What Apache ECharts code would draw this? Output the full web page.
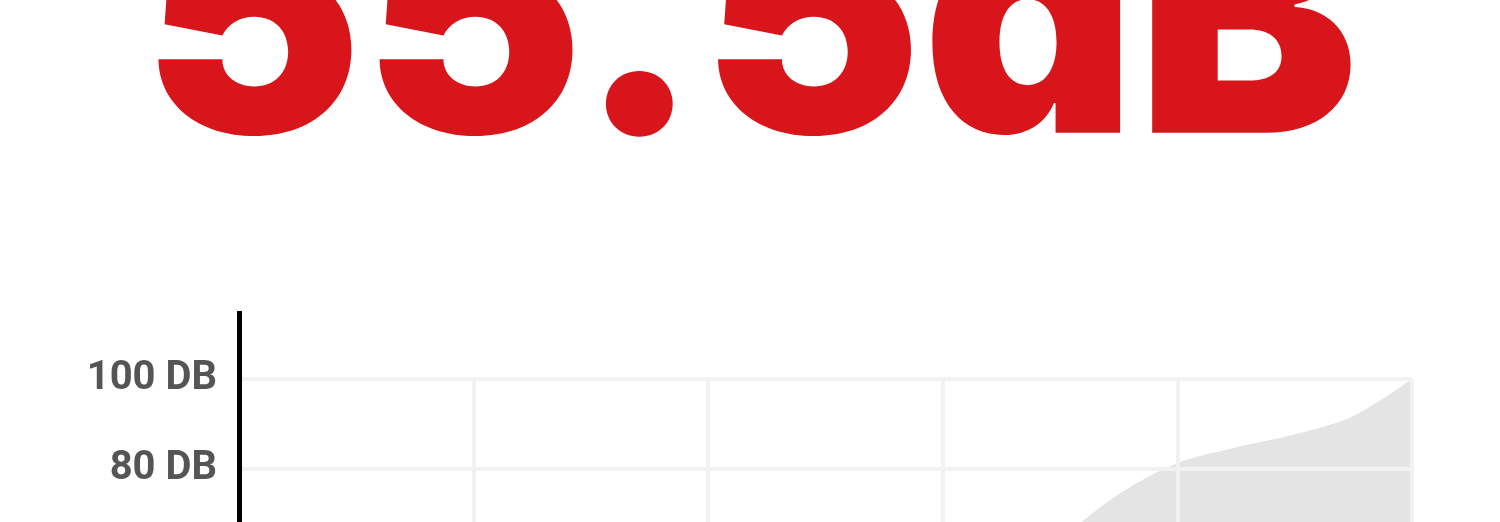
<!DOCTYPE html>
<html>
<head>
<meta charset="utf-8">
<title>Noise level</title>
<script src="https://cdn.jsdelivr.net/npm/echarts@6.0.0/dist/echarts.min.js"></script>
<style>
    html, body { margin: 0; padding: 0; background: #fff; overflow: hidden; }
    #viz { width: 1500px; height: 522px; }
</style>
</head>
<body>
<div id="viz"></div>
<script>
// Data (x in percent of the run, y in dB)
const headline = '55.5dB';
const xValues = [0, 10, 20, 30, 40, 50, 60, 65, 70, 75, 80, 85, 90, 95, 100];
const dbValues = [4, 6, 10, 15, 22, 32, 46, 55, 64.5, 74.4, 81.3, 84.8, 87.7, 91.8, 100];
const yTicks = { min: 0, max: 100, interval: 20 };

const points = xValues.map((x, i) => [x, dbValues[i]]);

function createChart() {
    var myChart = echarts.init(document.getElementById('viz'));

    var gridLine = { show: true, lineStyle: { color: '#f2f2f2', width: 4 } };

    var option = {
        backgroundColor: '#fff',
        animation: false,
        title: {
            text: headline,
            left: 'center',
            top: -133,
            padding: 0,
            textStyle: {
                fontFamily: 'Inter',
                fontWeight: 900,
                fontSize: 332,
                color: '#d7151a'
            }
        },
        grid: {
            left: 239,
            top: 379,
            width: 1173,
            height: 450,
            outerBoundsMode: 'none'
        },
        xAxis: {
            type: 'value',
            min: 0,
            max: 100,
            interval: 20,
            axisLine: { show: false },
            axisTick: { show: false },
            axisLabel: { show: false },
            splitLine: gridLine
        },
        yAxis: {
            type: 'value',
            min: yTicks.min,
            max: yTicks.max,
            interval: yTicks.interval,
            axisLine: { show: true, lineStyle: { color: '#000', width: 5 } },
            axisTick: { show: false },
            axisLabel: {
                formatter: '{value} DB',
                margin: 22,
                fontFamily: 'Roboto',
                fontWeight: 'bold',
                fontSize: 40,
                color: '#555'
            },
            splitLine: gridLine
        },
        // the axis line runs on a little above the top tick
        graphic: [{
            type: 'line',
            shape: { x1: 239.5, y1: 311, x2: 239.5, y2: 381 },
            style: { stroke: '#000', lineWidth: 5 },
            z: 10
        }],
        series: [{
            type: 'line',
            data: points,
            smooth: 0.35,
            showSymbol: false,
            z: -1,
            lineStyle: { width: 0 },
            areaStyle: { color: '#e4e4e4', opacity: 1 }
        }]
    };

    myChart.setOption(option);
}

createChart();
</script>
</body>
</html>
